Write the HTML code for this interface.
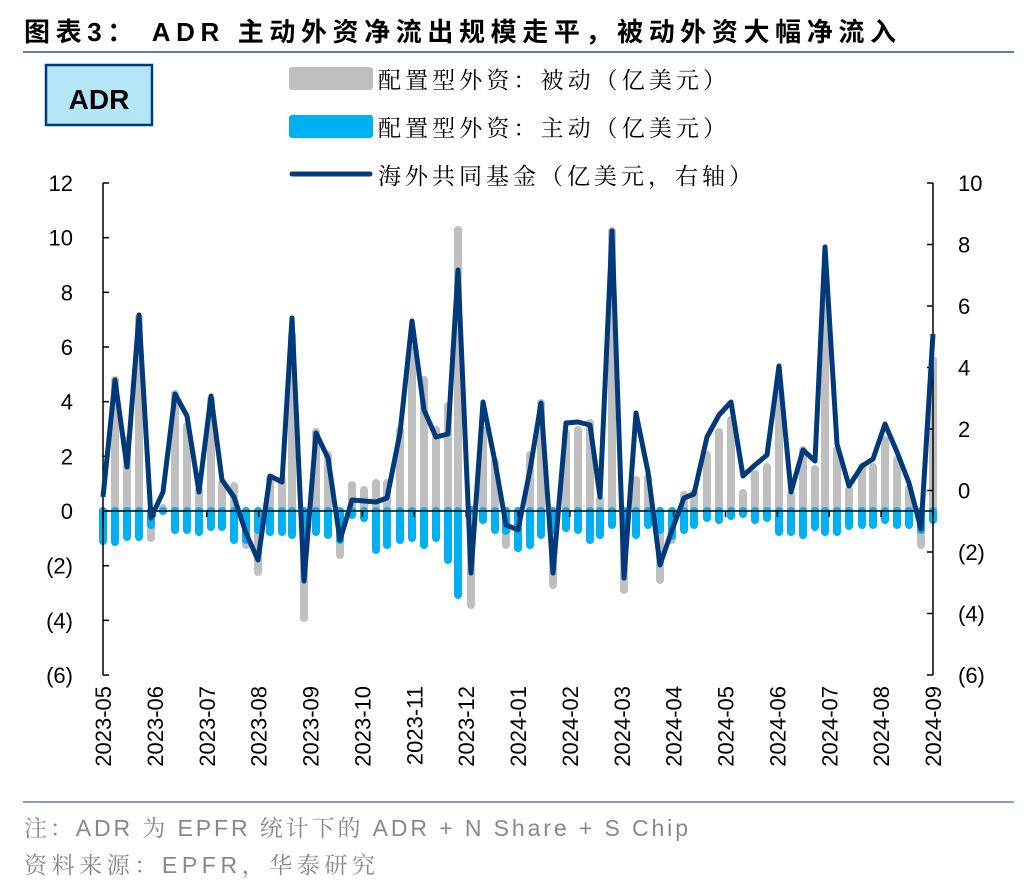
<!DOCTYPE html>
<html><head><meta charset="utf-8"><style>
body{margin:0;background:#fff;width:1036px;height:892px;overflow:hidden}
svg{display:block}
.s{font-family:"Liberation Sans","Noto Sans CJK SC",sans-serif}
.sf{font-family:"Liberation Sans","Noto Serif CJK SC",serif}
</style></head><body>
<svg width="1036" height="892" xmlns="http://www.w3.org/2000/svg" id="c">
<text x="24" y="41" class="s" font-size="26" font-weight="bold" fill="#000" textLength="872" lengthAdjust="spacing">图表3： ADR 主动外资净流出规模走平，被动外资大幅净流入</text>
<line x1="23" y1="52" x2="1014" y2="52" stroke="#5b7fae" stroke-width="2"/>
<rect x="46" y="65" width="106" height="60" fill="#b3e6f7" stroke="#003a7a" stroke-width="2.5"/>
<text x="99" y="109" text-anchor="middle" class="s" font-size="28" font-weight="bold">ADR</text>
<rect x="289" y="67" width="84" height="23" rx="3" fill="#bfbfbf"/>
<rect x="289" y="115" width="84" height="23" rx="3" fill="#00b0f0"/>
<line x1="292" y1="174" x2="370" y2="174" stroke="#003a7a" stroke-width="5" stroke-linecap="round"/>
<text x="378" y="88" class="sf" font-size="23" textLength="348" lengthAdjust="spacing">配置型外资：被动（亿美元）</text>
<text x="378" y="136" class="sf" font-size="23" textLength="348" lengthAdjust="spacing">配置型外资：主动（亿美元）</text>
<text x="378" y="184" class="sf" font-size="23" textLength="374" lengthAdjust="spacing">海外共同基金（亿美元，右轴）</text>
<g id="bars"></g>
<g id="axes"></g>
<polyline id="ln" fill="none" stroke="#003a7a" stroke-width="5" stroke-linejoin="round"/>
<line x1="23" y1="802" x2="1014" y2="802" stroke="#5b7fae" stroke-width="1.5"/>
<text x="24" y="836" class="sf" font-size="23" fill="#888" textLength="664" lengthAdjust="spacing">注：ADR 为 EPFR 统计下的 ADR + N Share + S Chip</text>
<text x="24" y="873" class="sf" font-size="23" fill="#888" textLength="351" lengthAdjust="spacing">资料来源：EPFR，华泰研究</text>
</svg>
<script>
var ns="http://www.w3.org/2000/svg";
function el(t,a,p,txt){var e=document.createElementNS(ns,t);for(var k in a)e.setAttribute(k,a[k]);if(txt)e.textContent=txt;document.getElementById(p).appendChild(e);return e;}
var L=[[103,497],[115,380],[127,467],[139,315],[151,518],[163,492],[175,394],[187,416],[199,492],[211,396],[222,480],[234,497],[246,533],[258,560],[270,476],[282,482],[292,318],[304,581],[316,433],[328,458],[340,540],[352,500],[364,501],[376,502],[387,498],[400,433],[412,321],[424,410],[436,437],[448,434],[458,270],[471,573],[483,402],[495,462],[506,525],[518,530],[530,470],[541,403],[553,573],[566,423],[578,422],[590,425],[600,497],[612,231],[624,578],[636,413],[648,472],[660,565],[672,530],[684,498],[694,494],[707,437],[719,415],[731,402],[743,476],[755,465],[767,455],[779,366],[791,492],[803,450],[815,461],[825,247],[837,444],[849,486],[862,466],[873,459],[885,424],[897,452],[909,483],[921,529],[933,334]];
var G=[540,380,440,318,538,508,394,426,490,400,484,486,545,572,478,480,335,618,432,455,555,485,490,483,483,430,350,380,430,406,230,605,430,462,545,548,455,403,585,433,430,423,500,231,590,480,478,580,540,495,493,455,432,420,493,474,467,390,495,450,469,300,450,490,467,467,440,460,488,545,360];
var B=[541,542,537,537,525,511,530,530,532,527,527,540,540,530,532,532,535,537,532,535,540,515,518,550,545,540,538,545,538,560,595,510,520,530,531,548,545,535,530,528,530,540,535,525,525,535,525,530,536,530,525,518,520,516,514,520,518,532,532,535,527,532,532,526,525,525,520,525,525,530,520];
var Z=511;
for(var i=0;i<L.length;i++){var x=L[i][0];
 el("line",{x1:x,y1:Z,x2:x,y2:G[i],stroke:"#bfbfbf","stroke-width":8,"stroke-linecap":"round"},"bars");
 el("line",{x1:x,y1:Z,x2:x,y2:B[i],stroke:"#00b0f0","stroke-width":8,"stroke-linecap":"round"},"bars");}
document.getElementById("ln").setAttribute("points",L.map(function(p){return p.join(",")}).join(" "));
var ax="axes";
el("line",{x1:103,y1:183,x2:103,y2:675,stroke:"#000","stroke-width":1.5},ax);
el("line",{x1:933,y1:183,x2:933,y2:675,stroke:"#000","stroke-width":1.5},ax);
el("line",{x1:103,y1:Z,x2:933,y2:Z,stroke:"#000","stroke-width":1.5},ax);
var ll=["12","10","8","6","4","2","0","(2)","(4)","(6)"];
for(var k=0;k<10;k++){var y=183+k*54.67;el("line",{x1:103,y1:y,x2:109,y2:y,stroke:"#000","stroke-width":1.5},ax);
 el("text",{x:73,y:y+8,"text-anchor":"end","font-size":22,"class":"s"},ax,ll[k]);}
var rl=["10","8","6","4","2","0","(2)","(4)","(6)"];
for(var k=0;k<9;k++){var y=183+k*61.5;el("line",{x1:927,y1:y,x2:933,y2:y,stroke:"#000","stroke-width":1.5},ax);
 el("text",{x:958,y:y+8,"font-size":22,"class":"s"},ax,rl[k]);}
var m=["2023-05","2023-06","2023-07","2023-08","2023-09","2023-10","2023-11","2023-12","2024-01","2024-02","2024-03","2024-04","2024-05","2024-06","2024-07","2024-08","2024-09"];
for(var k=0;k<17;k++){var x=103+k*51.875;el("line",{x1:x,y1:Z,x2:x,y2:Z+6,stroke:"#000","stroke-width":1.5},ax);
 el("text",{x:0,y:0,"font-size":22,"class":"s","text-anchor":"end",transform:"translate("+(x+8)+",686) rotate(-90)"},ax,m[k]);}
</script>
</body></html>
